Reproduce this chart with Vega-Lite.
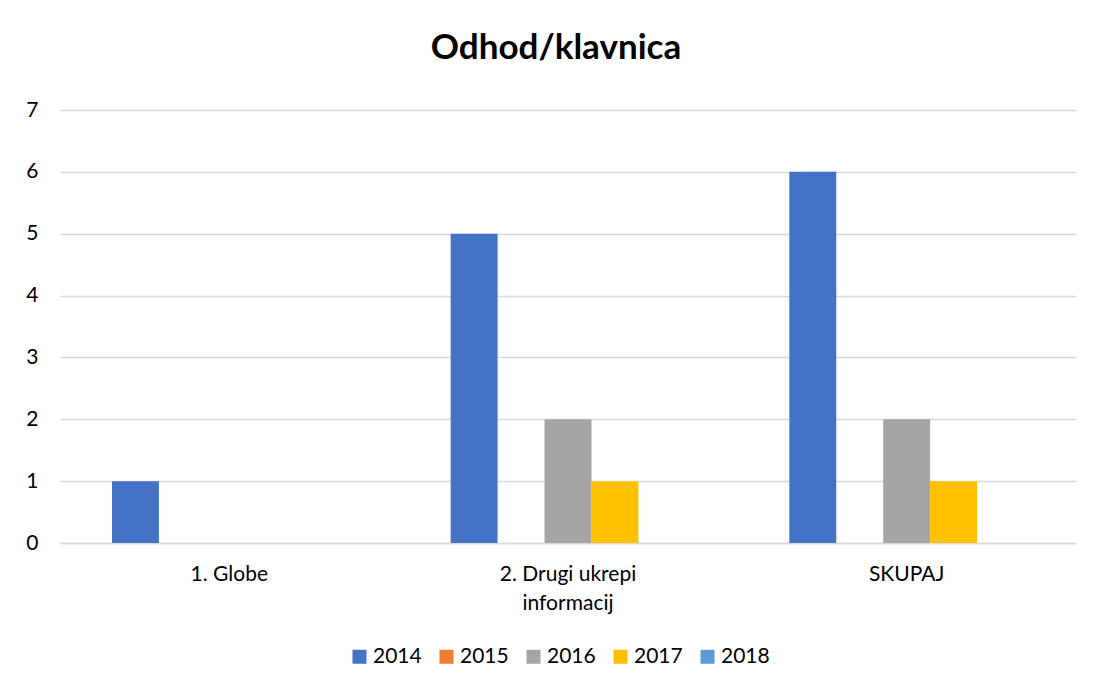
{
  "$schema": "https://vega.github.io/schema/vega-lite/v6.json",
  "width": 1016,
  "height": 433,
  "autosize": {"type": "none"},
  "padding": {"left": 60, "top": 110, "right": 18, "bottom": 145},
  "background": "white",
  "title": {
    "text": "Odhod/klavnica",
    "font": "Lato",
    "fontSize": 35,
    "fontWeight": "bold",
    "color": "#000000",
    "anchor": "middle",
    "dx": -12,
    "offset": 33
  },
  "data": {
    "values": [
      {"kategorija": "1. Globe", "leto": "2014", "vrednost": 1},
      {"kategorija": "1. Globe", "leto": "2015", "vrednost": 0},
      {"kategorija": "1. Globe", "leto": "2016", "vrednost": 0},
      {"kategorija": "1. Globe", "leto": "2017", "vrednost": 0},
      {"kategorija": "1. Globe", "leto": "2018", "vrednost": 0},
      {"kategorija": "2. Drugi ukrepi informacij", "leto": "2014", "vrednost": 5},
      {"kategorija": "2. Drugi ukrepi informacij", "leto": "2015", "vrednost": 0},
      {"kategorija": "2. Drugi ukrepi informacij", "leto": "2016", "vrednost": 2},
      {"kategorija": "2. Drugi ukrepi informacij", "leto": "2017", "vrednost": 1},
      {"kategorija": "2. Drugi ukrepi informacij", "leto": "2018", "vrednost": 0},
      {"kategorija": "SKUPAJ", "leto": "2014", "vrednost": 6},
      {"kategorija": "SKUPAJ", "leto": "2015", "vrednost": 0},
      {"kategorija": "SKUPAJ", "leto": "2016", "vrednost": 2},
      {"kategorija": "SKUPAJ", "leto": "2017", "vrednost": 1},
      {"kategorija": "SKUPAJ", "leto": "2018", "vrednost": 0}
    ]
  },
  "mark": {"type": "bar"},
  "encoding": {
    "x": {
      "field": "kategorija",
      "type": "nominal",
      "sort": null,
      "scale": {"paddingInner": 0.307, "paddingOuter": 0.1535},
      "axis": {
        "title": null,
        "labelAngle": 0,
        "labelFont": "Lato",
        "labelFontSize": 21,
        "labelColor": "#000000",
        "labelPadding": 20,
        "labelLineHeight": 29,
        "ticks": false,
        "domainColor": "#D9D9D9",
        "domainWidth": 1.5,
        "labelExpr": "datum.label == '2. Drugi ukrepi informacij' ? ['2. Drugi ukrepi', 'informacij'] : datum.label"
      }
    },
    "xOffset": {
      "field": "leto",
      "type": "nominal",
      "scale": {"domain": ["2014", "2015", "2016", "2017", "2018"], "paddingInner": 0, "paddingOuter": 0}
    },
    "y": {
      "field": "vrednost",
      "type": "quantitative",
      "scale": {"domain": [0, 7], "nice": false},
      "axis": {
        "title": null,
        "values": [0, 1, 2, 3, 4, 5, 6, 7],
        "labelFont": "Lato",
        "labelFontSize": 21,
        "labelColor": "#000000",
        "labelPadding": 22,
        "ticks": false,
        "domain": false,
        "gridColor": "#D9D9D9",
        "gridWidth": 1.5
      }
    },
    "color": {
      "field": "leto",
      "type": "nominal",
      "scale": {
        "domain": ["2014", "2015", "2016", "2017", "2018"],
        "range": ["#4472C4", "#ED7D31", "#A5A5A5", "#FFC000", "#5B9BD5"]
      },
      "legend": {
        "title": null,
        "orient": "none",
        "direction": "horizontal",
        "legendX": 289,
        "legendY": 536,
        "symbolType": "square",
        "symbolSize": 196,
        "symbolStrokeWidth": 0,
        "labelFont": "Lato",
        "labelFontSize": 21,
        "labelColor": "#000000",
        "labelOffset": 3,
        "columnPadding": 14
      }
    }
  },
  "config": {
    "view": {"stroke": null}
  }
}
